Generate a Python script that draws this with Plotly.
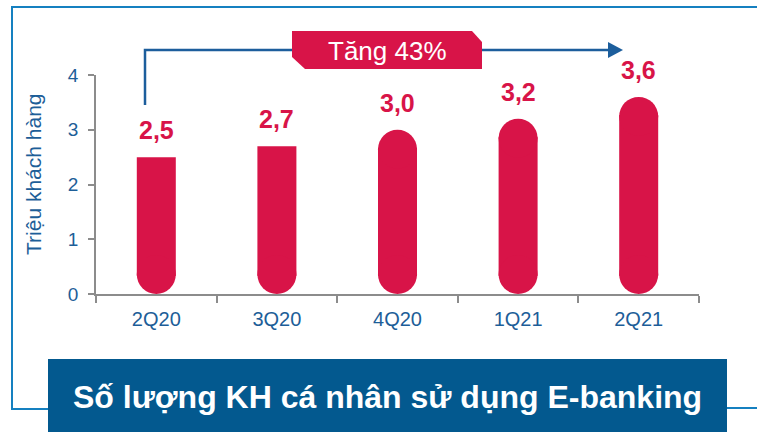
import plotly.graph_objects as go

# ---- data ----
categories = ["2Q20", "3Q20", "4Q20", "1Q21", "2Q21"]
values = [2.5, 2.7, 3.0, 3.2, 3.6]
value_labels = ["2,5", "2,7", "3,0", "3,2", "3,6"]
y_ticks = [0, 1, 2, 3, 4]
growth_text = "Tăng 43%"
y_title = "Triệu khách hàng"
chart_title = "Số lượng KH cá nhân sử dụng E-banking"

# ---- style ----
W, H = 757, 432
CRIMSON = "#D81448"
BLUE_TXT = "#1D5E98"
FRAME = "#1580C0"
ARROW = "#1C5E9C"
BOX = "#03598F"
AXIS = "#8C8C8C"
FONT = "Liberation Sans, Arial, sans-serif"
rounded_top = [False, False, True, True, True]

# plot area in pixels
PX_L, PX_R, PX_T, PX_B = 96, 699, 75, 294
y_max = 4
px_per_unit = (PX_B - PX_T) / y_max
bar_px = 39
cat_px = (PX_R - PX_L) / len(categories)
bar_w = bar_px / cat_px
r_data = (bar_px / 2) / px_per_unit
eps = 1.5 / px_per_unit


def fx(x):
    return x / W


def fy(y):
    return 1 - y / H


def path(points, close=False):
    s = "M " + " L ".join(f"{fx(x):.5f},{fy(y):.5f}" for x, y in points)
    return s + (" Z" if close else "")


fig = go.Figure()

# bar bodies
body_base = r_data - eps
body_top = [(v - r_data + eps) if r else v for v, r in zip(values, rounded_top)]
fig.add_trace(go.Bar(x=categories, y=[t - body_base for t in body_top],
                     base=[body_base] * len(categories), width=bar_w,
                     marker=dict(color=CRIMSON, line=dict(width=0)),
                     hoverinfo="skip", showlegend=False))
# rounded bottoms
fig.add_trace(go.Scatter(x=categories, y=[r_data] * len(categories), mode="markers",
                         marker=dict(size=bar_px, color=CRIMSON, line=dict(width=0)),
                         hoverinfo="skip", showlegend=False, cliponaxis=False))
# rounded tops
top_x = [c for c, r in zip(categories, rounded_top) if r]
top_y = [v - r_data for v, r in zip(values, rounded_top) if r]
fig.add_trace(go.Scatter(x=top_x, y=top_y, mode="markers",
                         marker=dict(size=bar_px, color=CRIMSON, line=dict(width=0)),
                         hoverinfo="skip", showlegend=False, cliponaxis=False))

annotations = []
for c, v, t in zip(categories, values, value_labels):
    annotations.append(dict(x=c, y=v, xref="x", yref="y", text=f"<b>{t}</b>",
                            showarrow=False, yshift=27, yanchor="middle",
                            font=dict(family=FONT, size=25, color=CRIMSON)))

annotations.append(dict(x=fx(33), y=fy(174), xref="paper", yref="paper", text=y_title,
                        textangle=-90, showarrow=False, xanchor="center", yanchor="middle",
                        font=dict(family=FONT, size=21, color=BLUE_TXT)))
annotations.append(dict(x=fx(387), y=fy(51), xref="paper", yref="paper", text=growth_text,
                        showarrow=False, xanchor="center", yanchor="middle",
                        font=dict(family=FONT, size=26, color="white")))
annotations.append(dict(x=fx(387.5), y=fy(397), xref="paper", yref="paper",
                        text=f"<b>{chart_title}</b>",
                        showarrow=False, xanchor="center", yanchor="middle",
                        font=dict(family=FONT, size=32, color="white")))

shapes = [
    # frame
    dict(type="path", xref="paper", yref="paper",
         path=path([(48, 409), (12, 409), (12, 7), (757, 7)]),
         line=dict(color=FRAME, width=2)),
    dict(type="path", xref="paper", yref="paper",
         path=path([(727, 408), (757, 408)]),
         line=dict(color=FRAME, width=2)),
    # title box
    dict(type="rect", xref="paper", yref="paper",
         x0=fx(48), x1=fx(727), y0=fy(440), y1=fy(359),
         fillcolor=BOX, line=dict(width=0)),
    # growth arrow
    dict(type="path", xref="paper", yref="paper",
         path=path([(145, 105), (145, 50), (610, 50)]),
         line=dict(color=ARROW, width=2.5)),
    dict(type="path", xref="paper", yref="paper",
         path=path([(608, 42), (623, 50), (608, 58)], close=True),
         fillcolor=ARROW, line=dict(color=ARROW, width=0)),
    # growth box
    dict(type="path", xref="paper", yref="paper",
         path=path([(292, 31), (472, 31), (482, 42), (482, 69), (305, 69), (292, 57)], close=True),
         fillcolor=CRIMSON, line=dict(width=0)),
]

fig.update_layout(
    template="none",
    width=W, height=H,
    margin=dict(l=0, r=0, t=0, b=0, pad=0, autoexpand=False),
    paper_bgcolor="white", plot_bgcolor="white",
    barmode="overlay",
    showlegend=False,
    annotations=annotations,
    shapes=shapes,
    xaxis=dict(domain=[fx(PX_L), fx(PX_R)], type="category", range=[-0.5, len(categories) - 0.5],
               automargin=False,
               showline=True, linecolor=AXIS, linewidth=1.5,
               ticks="outside", tickson="boundaries", ticklen=7, tickcolor=AXIS, tickwidth=1.5,
               tickfont=dict(family=FONT, size=20, color=BLUE_TXT), ticklabelstandoff=6,
               showgrid=False, zeroline=False, fixedrange=True),
    yaxis=dict(domain=[fy(PX_B), fy(PX_T)], range=[0, y_max], tickvals=y_ticks,
               automargin=False,
               showline=True, linecolor=AXIS, linewidth=1.5,
               ticks="outside", ticklen=6, tickcolor=AXIS, tickwidth=1.5,
               tickfont=dict(family=FONT, size=19, color=BLUE_TXT), ticklabelstandoff=6,
               showgrid=False, zeroline=False, fixedrange=True),
)

fig.write_html("out.html", config={"displayModeBar": False},
               post_script="document.body.style.margin='0';document.body.style.overflow='hidden';")
